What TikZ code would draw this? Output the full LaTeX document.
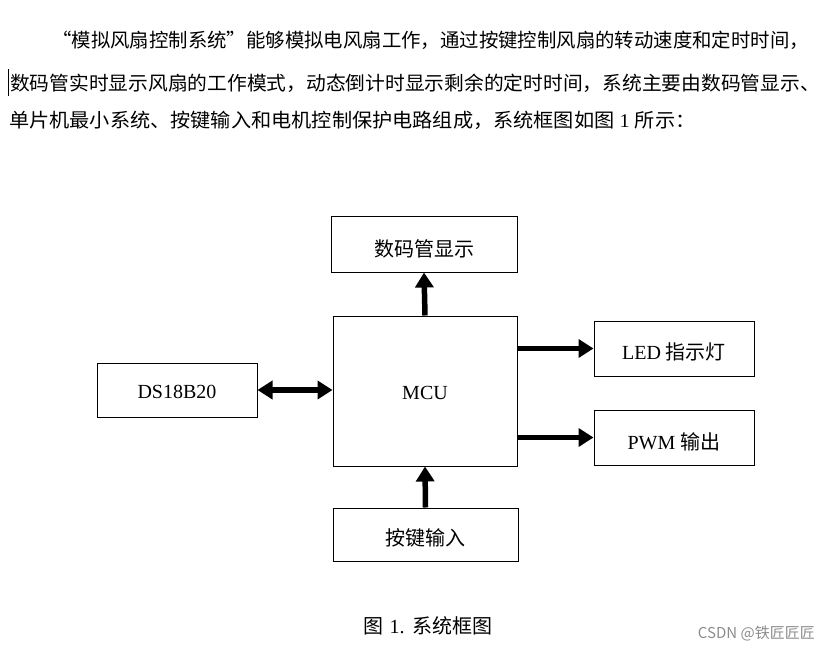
\documentclass[tikz,border=0pt]{standalone}
\usepackage{fontspec}
\setmainfont{Liberation Serif}
\newfontfamily\cjk{Noto Sans CJK SC}
\usetikzlibrary{arrows.meta}
\newcommand{\lowtxt}[2]{\raisebox{-#1}[\height][\depth]{#2}}
\tikzset{
  blk/.style={draw, line width=1pt, minimum width=#1, inner sep=0pt, font=\fontsize{20}{20}\selectfont},
  bigarrow/.style={line width=5.5pt, -{Triangle[width=18pt,length=15pt]}},
  dblarrow/.style={line width=5.5pt, {Triangle[width=18pt,length=15pt]}-{Triangle[width=18pt,length=15pt]}},
  para/.style={anchor=west, inner sep=0pt, font=\cjk\fontsize{19.4}{20}\selectfont},
}
\begin{document}
\begin{tikzpicture}[x=1pt,y=-1pt]
\useasboundingbox (0,0) rectangle (829,652);
% paragraph
\node[para] (l1) at (52,40) {“模拟风扇控制系统”能够模拟电风扇工作，通过按键控制风扇的转动速度和定时时间，};
\node[para] (l2) at (10,83) {\scalebox{1.018}[1]{数码管实时显示风扇的工作模式，动态倒计时显示剩余的定时时间，系统主要由数码管显示、}};
\node[para] (l3) at (9,120) {\scalebox{1.04}[1]{单片机最小系统、按键输入和电机控制保护电路组成，系统框图如图\hspace{5pt}{\rmfamily 1}\hspace{5pt}所示：}};
\coordinate (cur1) at (8,69);
\coordinate (cur2) at (8,96);
\draw[line width=0.8pt] (cur1) -- (cur2);
% boxes
\node[blk=186pt, minimum height=55pt] (disp) at (424,244.5) {\lowtxt{4.5pt}{\cjk 数码管显示}};
\node[blk=184pt, minimum height=150pt] (mcu) at (425,391) {\lowtxt{1.5pt}{MCU}};
\node[blk=160pt, minimum height=54pt] (ds) at (177,390) {\lowtxt{2pt}{DS18B20}};
\node[blk=160pt, minimum height=55pt] (led) at (674,348.5) {\lowtxt{3.5pt}{LED {\cjk 指示灯}}};
\node[blk=160pt, minimum height=55pt] (pwm) at (674,437.5) {\lowtxt{4pt}{PWM {\cjk 输出}}};
\node[blk=185pt, minimum height=53pt] (key) at (425.5,534.5) {\lowtxt{3.5pt}{\cjk 按键输入}};
% connectors
\draw[bigarrow] (mcu.north) -- (disp.south);
\draw[dblarrow] (ds.east) -- (mcu.west |- ds);
\draw[bigarrow] (mcu.east |- led) -- (led.west);
\draw[bigarrow] (mcu.east |- pwm) -- (pwm.west);
\draw[bigarrow] (key.north) -- (mcu.south);
% caption
\node[inner sep=0pt, font=\fontsize{20}{20}\selectfont] (cap) at (428,626) {{\cjk 图}\hspace{6pt}1.\hspace{8pt}{\cjk 系统框图}};
\node[anchor=east, inner sep=0pt, text=black!45, font=\cjk\fontsize{15}{16}\selectfont] (wm) at (815,634) {CSDN @铁匠匠匠};
\end{tikzpicture}
\end{document}
